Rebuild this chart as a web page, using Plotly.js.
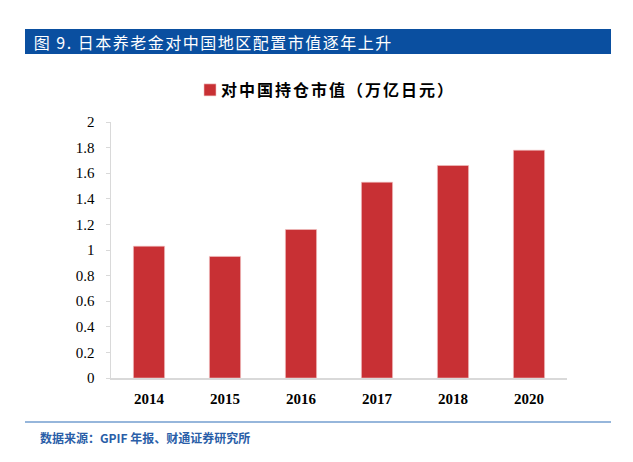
<!DOCTYPE html>
<html><head><meta charset="utf-8">
<script src="https://cdn.plot.ly/plotly-3.0.1.min.js"></script>
<style>
html,body{margin:0;padding:0;background:#fff}
#chart{width:633px;height:462px}
#chart .legendtext{letter-spacing:2px;transform:translateX(-9px)}
#chart .annotation-text.title-ann{letter-spacing:1.5px}
</style>
</head><body><div id="chart"></div>
<script>
const years = ['2014','2015','2016','2017','2018','2020'];
const holdings = [1.03, 0.95, 1.16, 1.53, 1.66, 1.78];
const seriesName = '对中国持仓市值（万亿日元）';
const yTicks = [0,0.2,0.4,0.6,0.8,1,1.2,1.4,1.6,1.8,2];
const yTickText = ['0','0.2','0.4','0.6','0.8','1','1.2','1.4','1.6','1.8','2'];
const chartTitle = '图 9. 日本养老金对中国地区配置市值逐年上升';
const sourceText = '数据来源：GPIF 年报、财通证券研究所';

const L=111, R=567, T=122, B=378, W=633, H=462;
const px = x => (x-L)/(R-L);
const py = y => (B-y)/(B-T);

const trace = {
  type:'bar', x:years, y:holdings, name:seriesName,
  marker:{color:'#c83034', line:{color:'#f2c4c4', width:0.6}},
  showlegend:true, hoverinfo:'skip'
};
const layout = {
  width:W, height:H,
  margin:{l:L, r:W-R, t:T, b:H-B, pad:0},
  paper_bgcolor:'#fff', plot_bgcolor:'#fff',
  bargap:0.59,
  xaxis:{type:'category', showgrid:false, zeroline:false, showline:true, linecolor:'#d9d9d9', linewidth:1.5,
    ticks:'', tickfont:{family:'Liberation Serif', size:15, color:'#000', weight:'bold'}, ticklabelstandoff:6},
  yaxis:{range:[0,2], tickvals:yTicks, ticktext:yTickText, showgrid:false, zeroline:false, showline:true,
    linecolor:'#d9d9d9', linewidth:1.5, ticks:'outside', ticklen:4, tickcolor:'#d9d9d9',
    tickfont:{family:'Liberation Serif', size:15, color:'#000'}, ticklabelstandoff:8},
  legend:{orientation:'h', x:px(190), y:py(90), xanchor:'left', yanchor:'middle',
    font:{family:'Noto Sans CJK SC', size:16, color:'#000', weight:'bold'}, itemwidth:30},
  shapes:[
    {type:'rect', xref:'paper', yref:'paper', x0:px(25), x1:px(611), y0:py(54), y1:py(29),
      fillcolor:'#0a4fa0', line:{width:0}, layer:'below'},
    {type:'line', xref:'paper', yref:'paper', x0:px(25), x1:px(611), y0:py(422), y1:py(422),
      line:{color:'#2e6eb8', width:1.2}}
  ],
  annotations:[
    {xref:'paper', yref:'paper', x:px(49), y:py(41.5), xanchor:'left', yanchor:'middle', showarrow:false,
      text:chartTitle, font:{family:'Noto Sans CJK SC', size:16, color:'#fff'}},
    {xref:'paper', yref:'paper', x:px(38), y:py(437), xanchor:'left', yanchor:'middle', showarrow:false,
      text:sourceText, font:{family:'Noto Sans CJK SC', size:12, color:'#2a5ea8', weight:'bold'}}
  ]
};
Plotly.newPlot('chart', [trace], layout, {displayModeBar:false, staticPlot:true}).then(gd => {
  const t = gd.querySelectorAll('.annotation-text')[0];
  if (t) t.classList.add('title-ann');
});
</script></body></html>
